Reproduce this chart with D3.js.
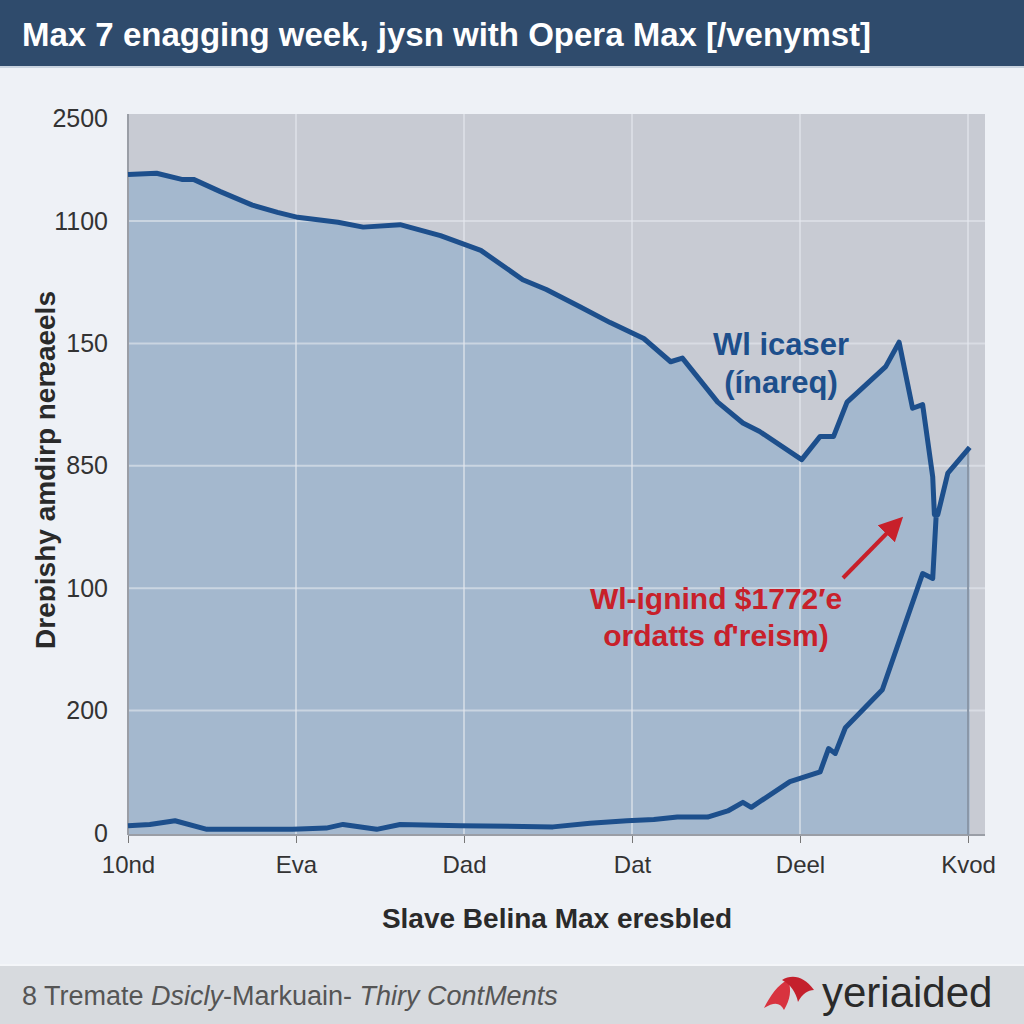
<!DOCTYPE html>
<html>
<head>
<meta charset="utf-8">
<title>Max 7 enagging week</title>
<script src="https://d3js.org/d3.v7.min.js"></script>
<style>
  body { margin: 0; background: #eef1f6; }
  svg { display: block; font-family: "Liberation Sans", Arial, sans-serif; }
</style>
</head>
<body>
<div id="chart"></div>
<script>
// x positions are in "tick units" (0 = 10nd ... 5 = Kvod), y in tick steps
var xTickLabels = ["10nd", "Eva", "Dad", "Dat", "Deel", "Kvod"]
var yTickVals = [0, 1, 2, 3, 4, 5, 5.84]
var yTickLabels = ["0", "200", "100", "850", "150", "1100", "2500"]

// upper series (drawn with the area fill under it)
var upperX = [0.00, 0.17, 0.32, 0.39, 0.55, 0.74, 0.89, 1.01, 1.25, 1.40, 1.62, 1.86, 2.10, 2.35, 2.49, 2.69, 2.87, 3.07, 3.23, 3.30, 3.51, 3.66, 3.76, 4.01, 4.12, 4.20, 4.28, 4.51, 4.59, 4.67, 4.73, 4.79, 4.80, 4.82, 4.88, 5.01]
var upperY = [5.38, 5.39, 5.34, 5.34, 5.24, 5.13, 5.07, 5.03, 4.99, 4.95, 4.97, 4.88, 4.76, 4.52, 4.44, 4.30, 4.17, 4.04, 3.85, 3.88, 3.52, 3.35, 3.28, 3.05, 3.24, 3.24, 3.52, 3.81, 4.01, 3.47, 3.50, 2.91, 2.60, 2.60, 2.94, 3.15]

// lower series
var lowerX = [0.00, 0.13, 0.28, 0.47, 0.98, 1.18, 1.28, 1.48, 1.62, 1.98, 2.53, 2.75, 2.97, 3.13, 3.27, 3.45, 3.57, 3.66, 3.71, 3.94, 4.12, 4.17, 4.21, 4.27, 4.49, 4.73, 4.79, 4.81]
var lowerY = [0.06, 0.07, 0.10, 0.03, 0.03, 0.04, 0.07, 0.03, 0.07, 0.06, 0.05, 0.08, 0.10, 0.11, 0.13, 0.13, 0.18, 0.25, 0.21, 0.42, 0.50, 0.69, 0.65, 0.86, 1.17, 2.12, 2.08, 2.58]

var W = 1024, H = 1024
var margin = { top: 114, right: 39, bottom: 189, left: 128 }
var width = W - margin.left - margin.right,
    height = H - margin.top - margin.bottom

var svg = d3.select("#chart").append("svg")
    .attr("width", W).attr("height", H)

svg.append("rect").attr("width", W).attr("height", H).attr("fill", "#eef1f6")

// header bar
svg.append("rect").attr("width", W).attr("height", 66).attr("fill", "#2f4b6c")
svg.append("rect").attr("y", 66).attr("width", W).attr("height", 2).attr("fill", "#c9d3df")
svg.append("text")
    .attr("x", 22).attr("y", 46)
    .attr("fill", "#ffffff")
    .style("font-size", "33px").style("font-weight", "bold")
    .text("Max 7 enagging week, jysn with Opera Max [/venymst]")

var g = svg.append("g")
    .attr("transform", "translate(" + margin.left + "," + margin.top + ")")

var x = d3.scaleLinear().domain([0, 5]).range([0, 840])
var y = d3.scaleLinear().domain([0, 5]).range([719, 107])

// plot background
g.append("rect")
    .attr("width", width).attr("height", 721)
    .attr("fill", "#c8cbd3")

var upper = upperX.map(function (d, i) { return { x: d, y: upperY[i] } })
var lower = lowerX.map(function (d, i) { return { x: d, y: lowerY[i] } })

var area = d3.area()
    .x(function (d) { return x(d.x) })
    .y0(y(0) + 2)
    .y1(function (d) { return y(d.y) })

g.append("path").datum(upper)
    .attr("fill", "#a4b8ce")
    .attr("d", area)

// grid lines
g.selectAll(".hgrid").data(yTickVals.slice(1, 6))
    .enter().append("line")
    .attr("x1", 0).attr("x2", width)
    .attr("y1", function (d) { return y(d) }).attr("y2", function (d) { return y(d) })
    .attr("stroke", "#e4e8ee").attr("stroke-opacity", 0.6).attr("stroke-width", 2)

g.selectAll(".vgrid").data(d3.range(1, 6))
    .enter().append("line")
    .attr("x1", function (d) { return x(d) }).attr("x2", function (d) { return x(d) })
    .attr("y1", 0).attr("y2", 721)
    .attr("stroke", "#e4e8ee").attr("stroke-opacity", 0.6).attr("stroke-width", 2)

// axes lines
g.append("line").attr("x1", 0).attr("x2", 0).attr("y1", 0).attr("y2", 721)
    .attr("stroke", "#9a9ea6").attr("stroke-width", 2)
g.append("line").attr("x1", 0).attr("x2", width).attr("y1", 721).attr("y2", 721)
    .attr("stroke", "#9a9ea6").attr("stroke-width", 2)
g.append("line").attr("x1", x(5)).attr("x2", x(5)).attr("y1", y(upperY[upperY.length - 1])).attr("y2", 721)
    .attr("stroke", "#8a97a8").attr("stroke-width", 2)

// series lines
var line = d3.line()
    .x(function (d) { return x(d.x) })
    .y(function (d) { return y(d.y) })

g.append("path").datum(upper)
    .attr("fill", "none").attr("stroke", "#1d4f8c")
    .attr("stroke-width", 5).attr("stroke-linejoin", "round")
    .attr("d", line)
g.append("path").datum(lower)
    .attr("fill", "none").attr("stroke", "#1d4f8c")
    .attr("stroke-width", 5).attr("stroke-linejoin", "round")
    .attr("d", line)

// x axis
var xAxis = g.append("g")
    .attr("transform", "translate(0,722)")
    .call(d3.axisBottom(x).tickValues(d3.range(0, 6))
        .tickFormat(function (d) { return xTickLabels[d] })
        .tickSize(7).tickPadding(13))
xAxis.select(".domain").remove()
xAxis.selectAll("line").attr("stroke", "#777")
xAxis.selectAll("text")
    .attr("fill", "#333")
    .style("font-size", "24px")
    .style("font-family", "'Liberation Sans', Arial, sans-serif")

// y axis
var yAxis = g.append("g")
    .call(d3.axisLeft(y).tickValues(yTickVals)
        .tickFormat(function (d, i) { return yTickLabels[i] })
        .tickSize(0).tickPadding(20))
yAxis.select(".domain").remove()
yAxis.selectAll("text")
    .attr("fill", "#333")
    .style("font-size", "25px")
    .style("font-family", "'Liberation Sans', Arial, sans-serif")

// axis titles
svg.append("text")
    .attr("x", 557).attr("y", 928)
    .attr("text-anchor", "middle")
    .attr("fill", "#2a2a2a")
    .style("font-size", "28px").style("font-weight", "bold")
    .text("Slave Belina Max eresbled")

svg.append("text")
    .attr("transform", "translate(55,470) rotate(-90)")
    .attr("text-anchor", "middle")
    .attr("fill", "#2a2a2a")
    .style("font-size", "28px").style("font-weight", "bold")
    .text("Dreɒishy amdirp nerɐaeels")

// annotations
var blueNote = ["Wl icaser", "(ínareq)"]
svg.selectAll(".bnote").data(blueNote).enter().append("text")
    .attr("x", 781).attr("y", function (d, i) { return 355 + i * 38 })
    .attr("text-anchor", "middle")
    .attr("fill", "#1d4f8c")
    .style("font-size", "31px").style("font-weight", "bold")
    .text(function (d) { return d })

var redNote = ["Wl-ignind $1772′e", "ordatts ɗ'reism)"]
svg.selectAll(".rnote").data(redNote).enter().append("text")
    .attr("x", 716).attr("y", function (d, i) { return 609 + i * 37 })
    .attr("text-anchor", "middle")
    .attr("fill", "#c8202a")
    .style("font-size", "30px").style("font-weight", "bold")
    .text(function (d) { return d })

svg.append("defs").append("marker")
    .attr("id", "arrow").attr("viewBox", "0 0 10 10")
    .attr("refX", 4).attr("refY", 5)
    .attr("markerWidth", 6).attr("markerHeight", 6)
    .attr("orient", "auto")
    .append("path").attr("d", "M0,0 L10,5 L0,10 Z").attr("fill", "#c8202a")

svg.append("line")
    .attr("x1", 843).attr("y1", 578).attr("x2", 893).attr("y2", 527)
    .attr("stroke", "#c8202a").attr("stroke-width", 4)
    .attr("marker-end", "url(#arrow)")

// footer
svg.append("rect").attr("y", 964).attr("width", W).attr("height", 60).attr("fill", "#d7dade")
svg.append("rect").attr("y", 964).attr("width", W).attr("height", 2).attr("fill", "#f4f6f9")

var foot = svg.append("text")
    .attr("x", 22).attr("y", 1005)
    .attr("fill", "#555")
    .style("font-size", "27px")
foot.append("tspan").text("8 Tremate ")
foot.append("tspan").style("font-style", "italic").text("Dsicly")
foot.append("tspan").text("-Markuain- ")
foot.append("tspan").style("font-style", "italic").text("Thiry ContMents")

// logo
var logo = svg.append("g").attr("transform", "translate(764,974)")
logo.append("path")
    .attr("d", "M0,34 C6,22 14,10 24,6 C28,16 26,26 20,36 C16,28 10,28 0,34 Z")
    .attr("fill", "#d8333f")
logo.append("path")
    .attr("d", "M18,6 C28,0 40,2 50,16 C44,16 38,20 34,28 C32,18 26,10 18,6 Z")
    .attr("fill", "#c4202c")
svg.append("text")
    .attr("x", 822).attr("y", 1007)
    .attr("fill", "#2a2a2a")
    .style("font-size", "42px")
    .text("yeriaided")
</script>
</body>
</html>
